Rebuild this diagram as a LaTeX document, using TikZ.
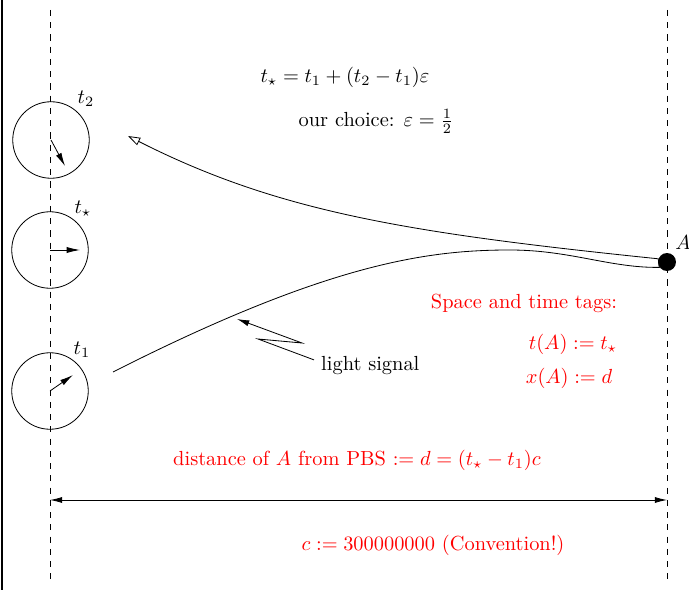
\documentclass[tikz,border=0pt]{standalone}
\usepackage{amsmath,amssymb}
\usepackage{xcolor}
\usepackage{tikz}
\usetikzlibrary{arrows.meta,positioning}

\begin{document}
\begin{tikzpicture}[x=0.49pt,y=-0.49pt,>={Latex[length=6pt,width=3pt]}]
  \tikzstyle{clock}=[draw,circle,minimum size=37.5pt,inner sep=0pt]
  \tikzstyle{hand}=[-{Latex[length=6.5pt,width=3pt]}]
  \tikzstyle{tag}=[text=red]
  \useasboundingbox (0,0) rectangle (689,590);
  \draw[line width=1pt] (2,0) -- (2,590);
  % world lines of PBS and A
  \coordinate (pbstop) at (50,10);
  \coordinate (pbsbot) at (50,580);
  \coordinate (atop) at (667,10);
  \coordinate (abot) at (667,580);
  \draw[dashed] (pbstop) -- (pbsbot);
  \draw[dashed] (atop) -- (abot);
  % clocks
  \node[clock] (c2) at (51,140) {};
  \node[clock] (cs) at (50,250) {};
  \node[clock] (c1) at (50,391) {};
  \node (lt2) at (86,99) {$t_2$};
  \node (lts) at (83,209) {$t_\star$};
  \node (lt1) at (82,350) {$t_1$};
  \draw[hand] (c2.center) -- ++(14,26);
  \draw[hand] (cs.center) -- ++(30,0);
  \draw[hand] (c1.center) -- ++(23,-16);
  % event A and the signal
  \node[circle,fill,inner sep=0pt,minimum size=8.8pt] (A) at (667,262) {};
  \node (lA) at (683,243) {$A$};
  \coordinate (emit) at (113,372);
  \coordinate (bend) at (510,250);
  \coordinate (recv) at (128,136);
  \draw[-{Triangle[open,length=6pt,width=4pt]}] (emit) .. controls (330,262) and (430,250) .. (bend)
    .. controls (570,250) and (610,268) .. (A.215)
    -- (A.160) .. controls (408,233) and (278,212) .. (recv);
  \node[anchor=west] (sig) at (314,366) {light signal};
  \draw[->] ([yshift=3pt]sig.west) -- (258,339) -- (302,343) -- (237,319);
  % texts
  \node (eps) at (345,77) {$t_\star = t_1 + (t_2-t_1)\varepsilon$};
  \node (choice) at (376,121) {our choice: $\varepsilon=\frac12$};
  \node[tag] (tags) at (524,303) {Space and time tags:};
  \node[tag] (tA) at (573,344) {$t(A) := t_\star$};
  \node[tag] (xA) at (569,378) {$x(A) := d$};
  \node[tag] (dist) at (357,460) {distance of $A$ from PBS $:= d = (t_\star - t_1)c$};
  % distance
  \coordinate (dL) at (50,500);
  \coordinate (dR) at (667,500);
  \draw[<->] (dL) -- (dR);
  \node[tag] (conv) at (433,545) {$c := 300000000$ (Convention!)};
\end{tikzpicture}
\end{document}
